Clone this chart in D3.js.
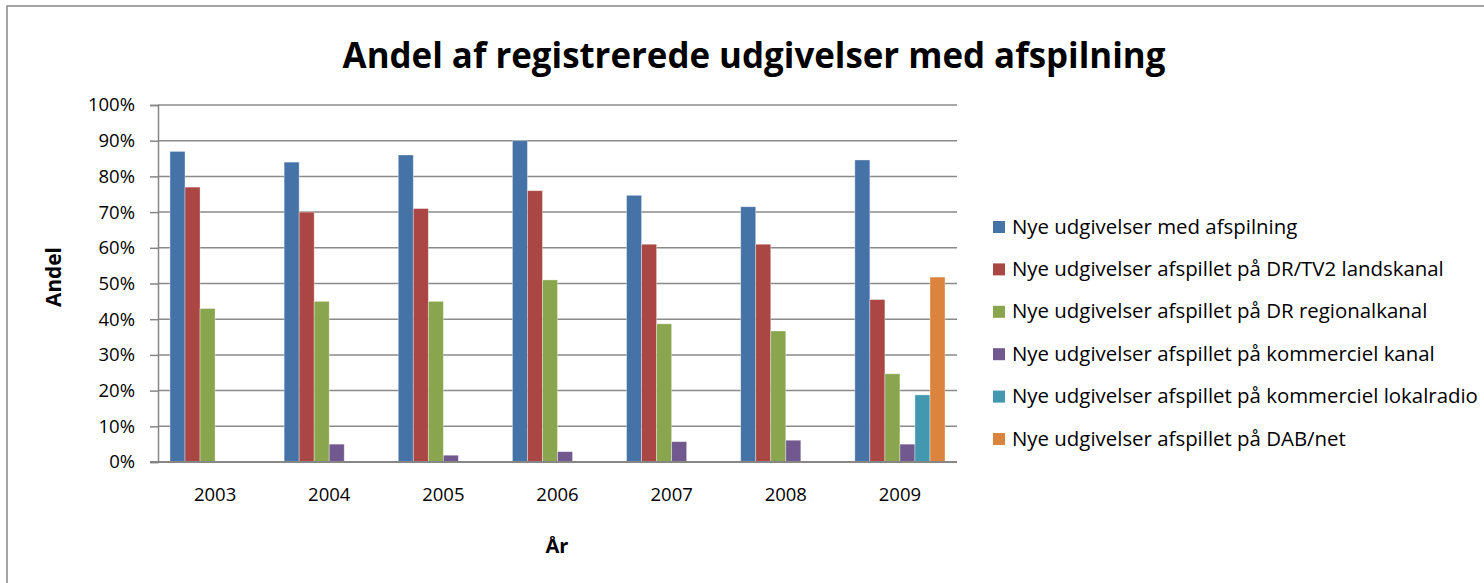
<!DOCTYPE html>
<html>
<head>
<meta charset="utf-8">
<script src="https://cdn.jsdelivr.net/npm/d3@7"></script>
<style>
  body { margin: 0; background: #fff; }
  svg { display: block; font-family: "Open Sans", "Noto Sans", sans-serif; }
</style>
</head>
<body>
<div id="chart"></div>
<script>
// data
const years = ["2003", "2004", "2005", "2006", "2007", "2008", "2009"];
const seriesNames = [
  "Nye udgivelser med afspilning",
  "Nye udgivelser afspillet på DR/TV2 landskanal",
  "Nye udgivelser afspillet på DR regionalkanal",
  "Nye udgivelser afspillet på kommerciel kanal",
  "Nye udgivelser afspillet på kommerciel lokalradio",
  "Nye udgivelser afspillet på DAB/net"
];
const medAfspilning = [87, 84, 86, 90, 74.7, 71.5, 84.6];
const drTv2 = [77, 70, 71, 76, 61, 61, 45.5];
const drRegional = [43, 45, 45, 51, 38.7, 36.7, 24.7];
const kommercielKanal = [0, 5, 1.9, 2.9, 5.7, 6.1, 5];
const kommercielLokal = [0, 0, 0, 0, 0, 0, 18.8];
const dabNet = [0, 0, 0, 0, 0, 0, 51.8];
const yTicks = [0, 10, 20, 30, 40, 50, 60, 70, 80, 90, 100];

const allSeries = [medAfspilning, drTv2, drRegional, kommercielKanal, kommercielLokal, dabNet];
const colors = ["#4572A7", "#AA4643", "#89A54E", "#71588F", "#4198AF", "#DB843D"];

let svgWidth = 1484;
let svgHeight = 583;

// plot area
let plotLeft = 158, plotRight = 957, plotTop = 105, plotBottom = 462;

let svg = d3.select("#chart")
  .append("svg")
  .attr("width", svgWidth)
  .attr("height", svgHeight);

// frame (only top and left edge are visible in the picture)
svg.append("path")
  .attr("d", "M7," + svgHeight + "V6H" + svgWidth)
  .attr("fill", "none")
  .attr("stroke", "#878787")
  .attr("stroke-width", 1.5);

// scales
let x0 = d3.scaleBand()
  .domain(years)
  .range([plotLeft, plotRight])
  .paddingInner(0.21)
  .paddingOuter(0.105);

let x1 = d3.scaleBand()
  .domain(d3.range(seriesNames.length))
  .range([0, x0.bandwidth()]);

let yScale = d3.scaleLinear()
  .domain([0, 100])
  .range([plotBottom, plotTop]);

// gridlines
svg.append("g")
  .selectAll("line")
  .data(yTicks.slice(1))
  .enter()
  .append("line")
  .attr("x1", plotLeft)
  .attr("x2", plotRight)
  .attr("y1", d => yScale(d))
  .attr("y2", d => yScale(d))
  .attr("stroke", "#8a8a8a")
  .attr("stroke-width", 1.5);

// bars
let groups = svg.append("g")
  .selectAll("g")
  .data(years)
  .enter()
  .append("g")
  .attr("transform", d => "translate(" + x0(d) + ",0)");

groups.selectAll("rect")
  .data((d, i) => allSeries.map((s, k) => ({ k: k, v: s[i] })))
  .enter()
  .filter(d => d.v > 0)
  .append("rect")
  .attr("x", d => x1(d.k))
  .attr("width", x1.bandwidth())
  .attr("y", d => yScale(d.v))
  .attr("height", d => yScale(0) - yScale(d.v))
  .attr("fill", d => colors[d.k])
  .attr("stroke", "#ffffff")
  .attr("stroke-opacity", 0.45)
  .attr("stroke-width", 0.8);

// fit a text element to a given width by tuning its font size
function fitWidth(sel, target) {
  let w = sel.node().getComputedTextLength();
  let fs = parseFloat(sel.style("font-size"));
  sel.style("font-size", (fs * target / w) + "px");
}

// y axis
let yAxis = d3.axisLeft(yScale)
  .tickValues(yTicks)
  .tickFormat(d => d + "%")
  .tickSize(8)
  .tickPadding(15);

let yG = svg.append("g")
  .attr("transform", "translate(" + plotLeft + ",0)")
  .call(yAxis);
yG.select(".domain").attr("stroke", "#868686").attr("stroke-width", 1.5);
yG.selectAll(".tick line").attr("stroke", "#868686").attr("stroke-width", 1.5);
yG.selectAll("text")
  .attr("fill", "#000")
  .style("font-size", "18.5px")
  .style("font-family", "'Open Sans', sans-serif");

// x axis
let xAxis = d3.axisBottom(x0)
  .tickSize(0)
  .tickPadding(26);

let xG = svg.append("g")
  .attr("transform", "translate(0," + plotBottom + ")")
  .call(xAxis);
xG.select(".domain")
  .attr("d", "M" + (plotLeft - 8) + ",0H" + plotRight)
  .attr("stroke", "#868686")
  .attr("stroke-width", 2);
xG.selectAll("text")
  .attr("fill", "#000")
  .style("font-size", "18.5px")
  .style("font-family", "'Open Sans', sans-serif");

// title
let title = svg.append("text")
  .attr("x", 754)
  .attr("y", 68)
  .attr("text-anchor", "middle")
  .style("font-weight", "bold")
  .style("font-size", "32px")
  .text("Andel af registrerede udgivelser med afspilning");
fitWidth(title, 823);

// axis titles
let xTitle = svg.append("text")
  .attr("x", 557)
  .attr("y", 553)
  .attr("text-anchor", "middle")
  .style("font-weight", "bold")
  .style("font-size", "18px")
  .text("År");
fitWidth(xTitle, 23);

let yTitle = svg.append("text")
  .attr("transform", "translate(61,277)rotate(-90)")
  .attr("text-anchor", "middle")
  .style("font-weight", "bold")
  .style("font-size", "18px")
  .text("Andel");
fitWidth(yTitle, 60);

// legend
let legend = svg.append("g")
  .attr("transform", "translate(993,227)");

let items = legend.selectAll("g")
  .data(seriesNames)
  .enter()
  .append("g")
  .attr("transform", (d, i) => "translate(0," + (i * 42.4) + ")");

items.append("rect")
  .attr("x", 0)
  .attr("y", -6)
  .attr("width", 12)
  .attr("height", 12)
  .attr("fill", (d, i) => colors[i]);

let legendTexts = items.append("text")
  .attr("x", 19)
  .attr("y", 6.5)
  .style("font-size", "16.5px")
  .text(d => d);

// size legend text so the longest entry matches the picture
let longest = legendTexts.filter((d, i) => i === 4);
let lw = longest.node().getComputedTextLength();
let lfs = 16.5 * 466 / lw;
legendTexts.style("font-size", lfs + "px");
</script>
</body>
</html>
